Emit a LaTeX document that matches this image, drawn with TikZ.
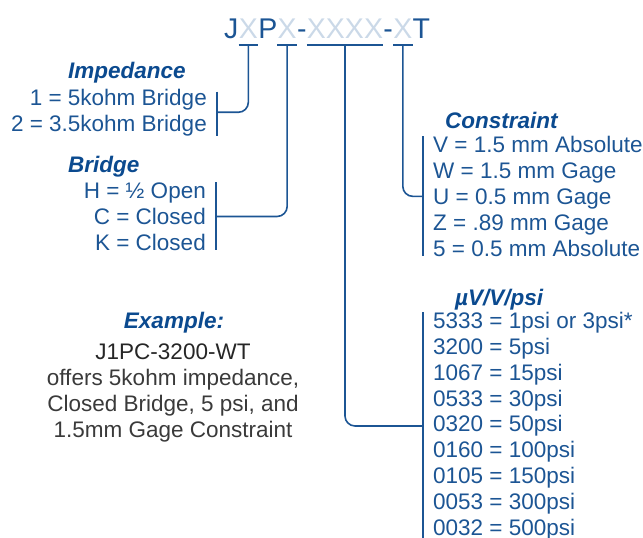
\documentclass[tikz,border=0pt]{standalone}
\usepackage{fontspec}
\setmainfont{Liberation Sans}
\usetikzlibrary{positioning}
\definecolor{highlight}{HTML}{1C5594}
\definecolor{heading}{HTML}{0B4A8F}
\definecolor{faded}{HTML}{CBD9E8}
\definecolor{body}{HTML}{3A3A3A}
\definecolor{code}{HTML}{262626}

\begin{document}
\begin{tikzpicture}[x=1pt,y=-1pt]
  \tikzset{part/.style={inner sep=0pt, text depth=7pt, font=\fontsize{28.5}{30}\selectfont, text=highlight},
    blank/.style={part, text=faded},
    opts/.style={inner xsep=10pt, inner ysep=0pt, font=\fontsize{22.5}{25.8}\selectfont, text=highlight},
    title/.style={inner sep=0pt, font=\fontsize{22.5}{26}\selectfont\bfseries\itshape, text=heading},
    edge/.style={line width=1.6pt, highlight, rounded corners=10pt}}
  \useasboundingbox (0,0) rectangle (643,538);
  \node[part, anchor=base west] (j) at (224,38) {J};
  \node[blank, base right=0pt of j] (x1) {X};
  \node[part, base right=0pt of x1] (p) {P};
  \node[blank, base right=0pt of p] (x2) {X};
  \node[part, base right=0pt of x2] (d1) {-};
  \node[blank, base right=0pt of d1] (x3) {XXXX};
  \node[part, base right=0pt of x3] (d2) {-};
  \node[blank, base right=0pt of d2] (x4) {X};
  \node[part, base right=0pt of x4] (t) {T};
  \node[title, anchor=base west] (impt) at (68,78) {Impedance};
  \node[opts, align=right, anchor=base east] (imp) at (217,131) {1 = 5kohm Bridge\\2 = 3.5kohm Bridge};
  \node[title, anchor=base west] (brgt) at (68,172) {Bridge};
  \node[opts, align=right, anchor=base east] (brg) at (216,250) {H = ½ Open\\C = Closed\\K = Closed};
  \node[title, anchor=base west] (cont) at (445,128) {Constraint};
  \node[opts, align=left, anchor=base west] (con) at (423,256) {V = 1.5 mm Absolute\\W = 1.5 mm Gage\\U = 0.5 mm Gage\\Z = .89 mm Gage\\5 = 0.5 mm Absolute};
  \node[title, anchor=base west] (senst) at (455,305) {µV/V/psi};
  \node[opts, align=left, anchor=base west] (sens) at (423,535) {5333 = 1psi or 3psi*\\3200 = 5psi\\1067 = 15psi\\0533 = 30psi\\0320 = 50psi\\0160 = 100psi\\0105 = 150psi\\0053 = 300psi\\0032 = 500psi};
  \node[title, anchor=base] (ext) at (174,328) {Example:};
  \node[opts, inner xsep=0pt, align=center, anchor=base, text=body] (ex) at (173,437) {\textcolor{code}{J1PC-3200-WT}\\offers 5kohm impedance,\\Closed Bridge, 5 psi, and\\1.5mm Gage Constraint};
  \draw[edge] (x1.south west) -- (x1.south east);
  \draw[edge] (x2.south west) -- (x2.south east);
  \draw[edge] (x3.south west) -- (x3.south east);
  \draw[edge] (x4.south west) -- (x4.south east);
  \draw[edge, shorten <=3pt] (imp.north east) -- (imp.south east);
  \draw[edge] (brg.north east) -- (brg.south east);
  \draw[edge] (con.north west) -- (con.south west);
  \draw[edge] (sens.north west) -- (sens.south west);
  \draw[edge] (x1.south) |- (imp.east);
  \draw[edge] (x2.south) |- (brg.east);
  \draw[edge] (x3.south) |- (sens.west);
  \draw[edge] (x4.south) |- (con.west);
\end{tikzpicture}
\end{document}
